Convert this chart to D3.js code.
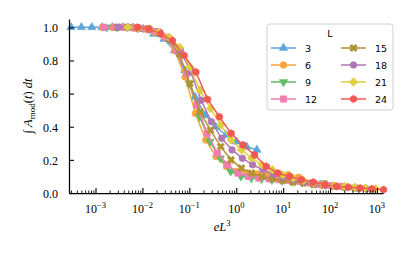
<!DOCTYPE html>
<html>
<head>
<meta charset="utf-8">
<script src="https://cdn.jsdelivr.net/npm/d3@7"></script>
<style>
  body { margin: 0; background: #fff; }
  svg text { fill: #000; }
  .tick text { font-family: "Liberation Serif", serif; font-size: 12px; }
  .leg text { font-family: "DejaVu Sans", sans-serif; font-size: 9.5px; }
</style>
</head>
<body>
<svg id="chart" width="411" height="254"></svg>
<script>
// series labels (L) and colours
const sizesL = [3, 6, 9, 12, 15, 18, 21, 24];
const colors = ["#5DA5DA", "#FAA43A", "#60BD68", "#F17CB0", "#B2912F", "#B276B2", "#DECF3F", "#F15854"];

// log10(e L^3) for each point
const lx3 = [-3.52,-3.30,-3.08,-2.86,-2.64,-2.42,-2.20,-1.98,-1.76,-1.54,-1.32,-1.10,-0.88,-0.66,-0.44,-0.22,0.00,0.22,0.44];
const lx6 = [-2.85,-2.63,-2.41,-2.19,-1.97,-1.75,-1.53,-1.31,-1.09,-0.87,-0.65,-0.43,-0.21,0.01,0.23,0.45,0.67,0.89,1.11,1.33];
const lx9 = [-2.76,-2.54,-2.32,-2.10,-1.88,-1.66,-1.44,-1.22,-1.00,-0.78,-0.56,-0.34,-0.12,0.10,0.32,0.54,0.76,0.98,1.20,1.42,1.64,1.86];
const lx12 = [-2.82,-2.60,-2.38,-2.16,-1.94,-1.72,-1.50,-1.28,-1.06,-0.84,-0.62,-0.40,-0.18,0.04,0.26,0.48,0.70,0.92,1.14,1.36,1.58,1.80,2.02,2.24];
const lx15 = [-2.53,-2.31,-2.09,-1.87,-1.65,-1.43,-1.21,-0.99,-0.77,-0.55,-0.33,-0.11,0.11,0.33,0.55,0.77,0.99,1.21,1.43,1.65,1.87,2.09,2.31,2.53];
const lx18 = [-2.51,-2.29,-2.07,-1.85,-1.63,-1.41,-1.19,-0.97,-0.75,-0.53,-0.31,-0.09,0.13,0.35,0.57,0.79,1.01,1.23,1.45,1.67,1.89,2.11,2.33,2.55,2.77];
const lx21 = [-2.31,-2.09,-1.87,-1.65,-1.43,-1.21,-0.99,-0.77,-0.55,-0.33,-0.11,0.11,0.33,0.55,0.77,0.99,1.21,1.43,1.65,1.87,2.09,2.31,2.53,2.75,2.97];
const lx24 = [-2.11,-1.86,-1.61,-1.36,-1.11,-0.86,-0.61,-0.36,-0.11,0.14,0.39,0.64,0.89,1.14,1.39,1.64,1.89,2.14,2.39,2.64,2.89,3.14];

// integral of A_mod(t) dt
const y3 = [1,1,1,1,1,1,0.998,0.99,0.96,0.93,0.86,0.74,0.58,0.47,0.40,0.35,0.31,0.28,0.26];
const y6 = [1,1,1,0.998,0.99,0.97,0.94,0.86,0.70,0.48,0.32,0.22,0.16,0.13,0.12,0.115,0.11,0.105,0.11,0.095];
const y9 = [1,1,1,0.995,0.99,0.97,0.93,0.84,0.66,0.46,0.31,0.21,0.13,0.10,0.09,0.085,0.08,0.075,0.07,0.065,0.06,0.06];
const y12 = [1,1,1,0.995,0.99,0.975,0.94,0.86,0.72,0.53,0.36,0.24,0.17,0.12,0.10,0.09,0.085,0.08,0.075,0.07,0.06,0.05,0.045,0.04];
const y15 = [1,1,0.995,0.99,0.97,0.93,0.84,0.66,0.49,0.38,0.28,0.20,0.15,0.12,0.10,0.085,0.075,0.065,0.06,0.05,0.045,0.04,0.035,0.03];
const y18 = [1,1,0.995,0.985,0.97,0.93,0.86,0.73,0.56,0.43,0.33,0.26,0.21,0.17,0.14,0.115,0.095,0.08,0.065,0.055,0.045,0.04,0.035,0.03,0.025];
const y21 = [1,0.995,0.99,0.97,0.94,0.88,0.76,0.62,0.51,0.41,0.32,0.26,0.21,0.17,0.14,0.11,0.09,0.075,0.06,0.05,0.045,0.04,0.035,0.03,0.025];
const y24 = [1,0.99,0.96,0.92,0.83,0.73,0.565,0.46,0.36,0.29,0.23,0.16,0.12,0.10,0.08,0.065,0.05,0.04,0.035,0.03,0.025,0.02];

const yTicks = [0, 0.2, 0.4, 0.6, 0.8, 1.0];
const xExps = [-3, -2, -1, 0, 1, 2, 3];

const allX = [lx3, lx6, lx9, lx12, lx15, lx18, lx21, lx24];
const allY = [y3, y6, y9, y12, y15, y18, y21, y24];

const svg = d3.select("#chart");
const padL = 69, padR = 383, padT = 19, padB = 193;

const x = d3.scaleLog().domain([Math.pow(10, -3.565), Math.pow(10, 3.128)]).range([padL, padR]);
const y = d3.scaleLinear().domain([0, 1.05]).range([padB, padT]);

// hexagon marker for the last series
const symbolHex = {
  draw: function(ctx, size) {
    const r = Math.sqrt(size / 2.598);
    for (let k = 0; k < 6; k++) {
      const a = Math.PI / 3 * k + Math.PI / 6;
      if (k === 0) ctx.moveTo(r * Math.cos(a), r * Math.sin(a));
      else ctx.lineTo(r * Math.cos(a), r * Math.sin(a));
    }
    ctx.closePath();
  }
};

// markers
const markers = [
  { type: d3.symbolTriangle, size: 28, rot: 0 },
  { type: d3.symbolCircle, size: 34, rot: 0 },
  { type: d3.symbolTriangle, size: 28, rot: 180 },
  { type: d3.symbolSquare, size: 38, rot: 0 },
  { type: d3.symbolCross, size: 32, rot: 45 },
  { type: d3.symbolCircle, size: 34, rot: 0 },
  { type: d3.symbolDiamond2, size: 44, rot: 0 },
  { type: symbolHex, size: 34, rot: 0 }
];

const plot = svg.append("g");
const line = d3.line().x(d => x(d[0])).y(d => y(d[1]));

sizesL.forEach(function(L, i) {
  const pts = allX[i].map((v, j) => [Math.pow(10, v), allY[i][j]]);
  const g = plot.append("g");
  g.append("path").datum(pts)
    .attr("d", line)
    .attr("fill", "none")
    .attr("stroke", colors[i])
    .attr("stroke-width", 1.5);
  const m = markers[i];
  g.selectAll("path.mk").data(pts).enter().append("path")
    .attr("class", "mk")
    .attr("d", d3.symbol().type(m.type).size(m.size))
    .attr("transform", d => "translate(" + x(d[0]) + "," + y(d[1]) + ") rotate(" + m.rot + ")")
    .attr("fill", colors[i])
    .attr("stroke", colors[i])
    .attr("stroke-width", 0.8);
});

// x axis (ticks pointing in)
const majors = xExps.map(e => Math.pow(10, e));
let minors = [];
for (let e = -4; e <= 3; e++) {
  for (let k = 2; k <= 9; k++) {
    const v = k * Math.pow(10, e);
    if (v > x.domain()[0] && v < x.domain()[1]) minors.push(v);
  }
}
svg.append("g").attr("transform", "translate(0," + padB + ")")
  .call(d3.axisBottom(x).tickValues(minors).tickSizeInner(-2.5).tickSizeOuter(0).tickFormat(""))
  .call(g => g.select(".domain").remove())
  .selectAll("line").attr("stroke-width", 0.9);

const xa = svg.append("g").attr("transform", "translate(0," + padB + ")")
  .call(d3.axisBottom(x).tickValues(majors).tickSizeInner(-5).tickSizeOuter(0).tickFormat(""));
xa.select(".domain").attr("stroke-width", 1.25);
xa.selectAll("line").attr("stroke-width", 1.1);

const xl = svg.append("g");
xExps.forEach(function(e) {
  const t = xl.append("text")
    .attr("x", x(Math.pow(10, e)))
    .attr("y", 213)
    .attr("text-anchor", "middle")
    .attr("font-family", "Liberation Serif, serif")
    .attr("font-size", 12);
  t.append("tspan").text("10");
  t.append("tspan").attr("dy", -5).attr("font-size", 8.5).text(e < 0 ? "\u2212" + (-e) : String(e));
});

// y axis
const ya = svg.append("g").attr("transform", "translate(" + padL + ",0)")
  .call(d3.axisLeft(y).tickValues(yTicks).tickSizeInner(-5).tickSizeOuter(0).tickPadding(11).tickFormat(d3.format(".1f")));
ya.select(".domain").attr("stroke-width", 1.25);
ya.selectAll("line").attr("stroke-width", 1.1);
ya.selectAll("text").attr("dy", "0.36em");

// axis labels
const xlab = svg.append("text")
  .attr("x", 222).attr("y", 231)
  .attr("text-anchor", "middle")
  .attr("font-family", "Liberation Serif, serif")
  .attr("font-size", 12.5);
xlab.append("tspan").attr("font-style", "italic").text("eL");
xlab.append("tspan").attr("dy", -5).attr("font-size", 8.5).text("3");

const ylab = svg.append("text")
  .attr("transform", "translate(32,106) rotate(-90)")
  .attr("text-anchor", "middle")
  .attr("font-family", "Liberation Serif, serif")
  .attr("font-size", 12.5);
ylab.append("tspan").text("\u222B ");
ylab.append("tspan").attr("font-style", "italic").text("A");
ylab.append("tspan").attr("dy", 3).attr("font-size", 9).text("mod");
ylab.append("tspan").attr("dy", -3).text("(");
ylab.append("tspan").attr("font-style", "italic").text("t");
ylab.append("tspan").text(") ");
ylab.append("tspan").attr("font-style", "italic").text("dt");

// legend
const leg = svg.append("g").attr("class", "leg");
leg.append("rect")
  .attr("x", 267).attr("y", 24).attr("width", 126).attr("height", 86).attr("rx", 3)
  .attr("fill", "#fff").attr("fill-opacity", 0.8)
  .attr("stroke", "#d0d0d0").attr("stroke-width", 1);
leg.append("text").attr("x", 330).attr("y", 36.5).attr("text-anchor", "middle").text("L");

sizesL.forEach(function(L, i) {
  const col = Math.floor(i / 4), row = i % 4;
  const x0 = 271 + col * 70, yy = 48 + row * 17;
  const m = markers[i];
  leg.append("line")
    .attr("x1", x0).attr("x2", x0 + 25).attr("y1", yy).attr("y2", yy)
    .attr("stroke", colors[i]).attr("stroke-width", 1.5);
  leg.append("path")
    .attr("d", d3.symbol().type(m.type).size(m.size))
    .attr("transform", "translate(" + (x0 + 12.5) + "," + yy + ") rotate(" + m.rot + ")")
    .attr("fill", colors[i]).attr("stroke", colors[i]).attr("stroke-width", 0.8);
  leg.append("text").attr("x", x0 + 34).attr("y", yy + 3.5).text(L);
});
</script>
</body>
</html>
